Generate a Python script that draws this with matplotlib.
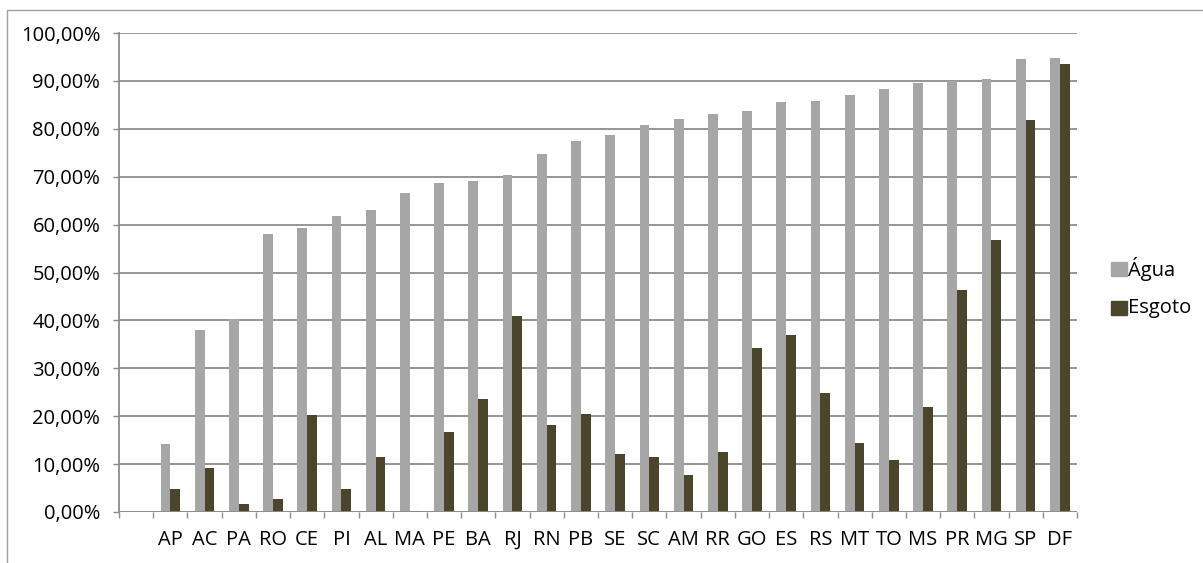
import numpy as np
import matplotlib
matplotlib.use("Agg")
import matplotlib.pyplot as plt
from matplotlib.patches import Rectangle

plt.rcParams['font.family'] = ['Open Sans', 'DejaVu Sans']

categories = ["", "AP", "AC", "PA", "RO", "CE", "PI", "AL", "MA", "PE", "BA", "RJ", "RN", "PB",
              "SE", "SC", "AM", "RR", "GO", "ES", "RS", "MT", "TO", "MS", "PR", "MG", "SP", "DF"]
agua = [np.nan, 14.1, 37.9, 40.3, 58.0, 59.3, 61.7, 63.0, 66.7, 68.7, 69.0, 70.4, 74.7, 77.4,
        78.7, 80.7, 82.0, 83.1, 83.8, 85.5, 85.8, 87.1, 88.4, 89.5, 90.0, 90.5, 94.5, 94.8]
esgoto = [np.nan, 4.8, 9.1, 1.7, 2.8, 20.2, 4.8, 11.5, 0.2, 16.8, 23.5, 40.9, 18.2, 20.5,
          12.1, 11.5, 7.7, 12.5, 34.2, 36.9, 24.8, 14.5, 10.8, 21.9, 46.3, 56.7, 81.8, 93.5]
series_names = ["Água", "Esgoto"]
yticks = [0, 10, 20, 30, 40, 50, 60, 70, 80, 90, 100]

W, H = 1203, 563
fig = plt.figure(figsize=(W / 100, H / 100), dpi=100)
fig.patch.set_facecolor("white")

left, right, top, bottom = 119, 1077, 33, 512
ax = fig.add_axes([left / W, (H - bottom) / H, (right - left) / W, (bottom - top) / H])

c_agua = "#A6A6A6"
c_esg = "#4A452B"
grid_c = "#8C8C8C"
fs = 14.5

n = len(categories)
centers = np.arange(n) + 0.5
bw = 0.286
ax.bar(centers - bw, agua, width=bw, align="edge", color=c_agua, zorder=3)
ax.bar(centers, esgoto, width=bw, align="edge", color=c_esg, zorder=3)

ax.set_xlim(0, n)
ax.set_ylim(0, 100)

for s in ["top", "right", "bottom"]:
    ax.spines[s].set_visible(False)
ax.spines["left"].set_color(grid_c)
ax.spines["left"].set_linewidth(1.3)

ax.set_yticks(yticks)
ax.set_yticklabels([f"{v:.2f}".replace(".", ",") + "%" for v in yticks])
ax.yaxis.grid(True, color=grid_c, linewidth=1.3, zorder=0)
ax.set_axisbelow(True)
ax.tick_params(axis="y", direction="out", length=4.5, width=1.0, color=grid_c,
               pad=9, labelsize=fs, labelcolor="black")

ax.set_xticks(centers)
ax.set_xticklabels(categories)
ax.set_xticks(np.arange(n + 1), minor=True)
ax.tick_params(axis="x", which="major", length=0, pad=13, labelsize=fs, labelcolor="black")
ax.tick_params(axis="x", which="minor", direction="out", length=4.5, width=1.0, color=grid_c)

# baseline
ax.axhline(0, color=grid_c, linewidth=1.3, zorder=4)

# legend
for i, (name, col) in enumerate(zip(series_names, [c_agua, c_esg])):
    yc = 269 + i * 39
    fig.patches.append(Rectangle((1111 / W, (H - yc - 7) / H), 16 / W, 14 / H,
                                 transform=fig.transFigure, color=col, figure=fig))
    fig.text(1128 / W, (H - yc) / H, name, fontsize=fs, va="center", ha="left")

# chart border
fig.patches.append(Rectangle((7 / W, -0.1), 1.2, (H - 10) / H + 0.1, transform=fig.transFigure,
                             fill=False, edgecolor="#A0A0A0", linewidth=1.0, figure=fig))

fig.savefig("out.png", dpi=100)
